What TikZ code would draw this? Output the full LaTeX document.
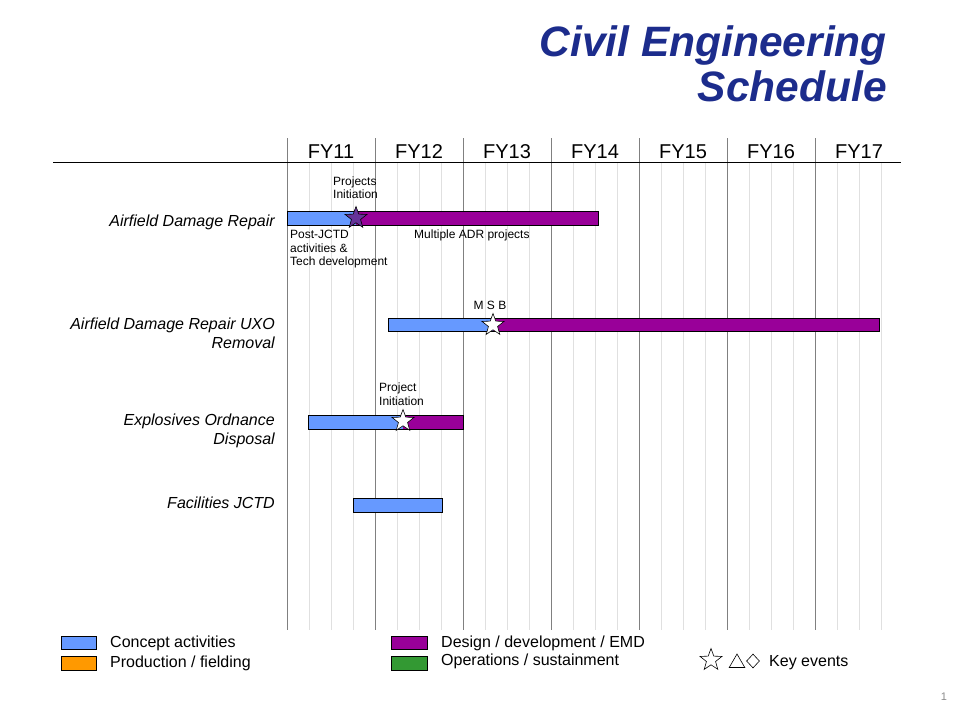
\documentclass[tikz,border=0pt]{standalone}
\usepackage{fontspec}
\setmainfont{Liberation Sans}
\usetikzlibrary{shapes.geometric}
\definecolor{conc}{RGB}{102,153,255}
\definecolor{desg}{RGB}{153,0,153}
\definecolor{prod}{RGB}{255,153,0}
\definecolor{oper}{RGB}{51,153,51}
\definecolor{ttl}{RGB}{28,44,140}
\definecolor{stardk}{RGB}{102,51,153}
\tikzset{
  bar/.style={draw=black, line width=0.8pt},
  major/.style={draw=black!50, line width=0.8pt},
  minor/.style={draw=black!12, line width=0.6pt},
  fy/.style={font=\fontsize{20}{20}\selectfont, inner sep=0pt},
  rowlab/.style={anchor=east, font=\fontsize{16}{19}\selectfont\itshape, inner sep=0pt, align=right},
  small/.style={anchor=north west, font=\fontsize{12}{13.5}\selectfont, inner sep=0pt, align=left},
  legtxt/.style={anchor=west, font=\fontsize{16}{16}\selectfont, inner sep=0pt},
  keystar/.style={star, star points=5, star point ratio=2.4, minimum size=23pt, inner sep=0pt, draw=black, line width=0.6pt},
}
\begin{document}
\begin{tikzpicture}[x=1pt,y=-1pt]
\useasboundingbox (0,0) rectangle (960,720);
\fill[white] (0,0) rectangle (960,720);
% title
\node[anchor=east, font=\fontsize{42.5}{45}\selectfont\bfseries\itshape, text=ttl, inner sep=0pt, align=right] (title) at (887,64) {Civil Engineering\\Schedule};
% minor grid
\foreach \i in {0,...,6}{
  \foreach \q in {1,2,3}{
    \draw[minor] ({287+88*\i+22*\q},162) -- ({287+88*\i+22*\q},630);
  }
}
% major grid
\foreach \i in {0,...,6}{
  \draw[major] ({287+88*\i},138) -- ({287+88*\i},630);
}
\draw[black, line width=0.8pt] (53,162) -- (901,162);
% FY labels
\foreach \i/\y in {0/11,1/12,2/13,3/14,4/15,5/16,6/17}{
  \node[fy] (fy\y) at ({331+88*\i},152) {FY\y};
}
% row labels
\node[rowlab] (r1) at (275,222) {Airfield Damage Repair};
\node[rowlab] (r2) at (275,333.5) {Airfield Damage Repair UXO\\Removal};
\node[rowlab] (r3) at (275,430.5) {Explosives Ordnance\\Disposal};
\node[rowlab] (r4) at (275,503) {Facilities JCTD};
% bar 1
\fill[conc] (287,211.5) rectangle (356,225);
\fill[desg] (356,211.5) rectangle (598.5,225);
\draw[bar] (287,211.5) rectangle (598.5,225);
\node[keystar, fill=stardk] (s1) at (356,218) {};
\node[small] (l1a) at (333,176.5) {Projects\\Initiation};
\node[small] (l1b) at (290,230) {Post-JCTD\\activities \&\\Tech development};
\node[small] (l1c) at (414,230) {Multiple ADR projects};
% bar 2
\fill[conc] (388,318) rectangle (493,331);
\fill[desg] (493,318) rectangle (879,331);
\draw[bar] (388,318) rectangle (879,331);
\node[keystar, fill=white] (s2) at (493,325) {};
\node[font=\fontsize{12}{13}\selectfont, inner sep=0pt] (l2) at (490,305.5) {M S B};
% bar 3
\fill[conc] (308,415) rectangle (403,429);
\fill[desg] (403,415) rectangle (463,429);
\draw[bar] (308,415) rectangle (463,429);
\node[keystar, fill=white] (s3) at (403,421) {};
\node[small] (l3) at (379,383) {Project\\Initiation};
% bar 4
\fill[conc] (353,498) rectangle (442.5,512);
\draw[bar] (353,498) rectangle (442.5,512);
% legend
\draw[bar, fill=conc] (61.5,636) rectangle (96,649.5);
\draw[bar, fill=prod] (61.5,656) rectangle (96,670);
\draw[bar, fill=desg] (391,636) rectangle (427,649.5);
\draw[bar, fill=oper] (391,656) rectangle (427,670);
\node[legtxt] (lg1) at (110,643) {Concept activities};
\node[legtxt] (lg2) at (110,663) {Production / fielding};
\node[legtxt] (lg3) at (441,643) {Design / development / EMD};
\node[legtxt] (lg4) at (441,661) {Operations / sustainment};
\node[keystar, fill=white, minimum size=23pt] (ks) at (711,660) {};
\node[regular polygon, regular polygon sides=3, draw=black, line width=0.6pt, minimum size=18pt, inner sep=0pt] (kt) at (737,663) {};
\node[diamond, draw=black, line width=0.6pt, minimum width=13pt, minimum height=14pt, inner sep=0pt] (kd) at (753,661) {};
\node[legtxt] (lg5) at (769,663) {Key events};
% page number
\node[font=\fontsize{11}{11}\selectfont, text=black!45, inner sep=0pt] (pg) at (944,697) {1};
\end{tikzpicture}
\end{document}
